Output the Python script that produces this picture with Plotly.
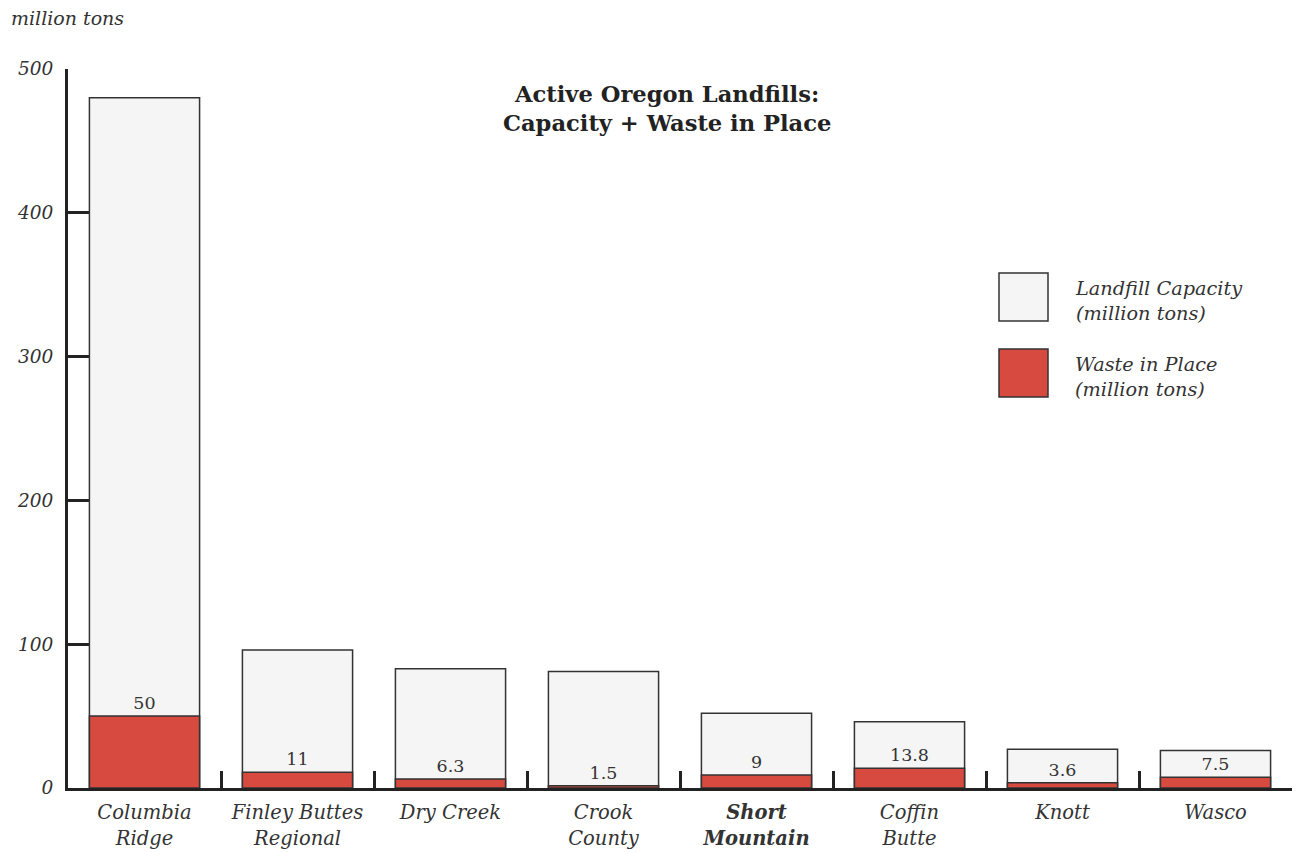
import plotly.graph_objects as go

categories = ["Columbia Ridge", "Finley Buttes Regional", "Dry Creek", "Crook County",
              "Short Mountain", "Coffin Butte", "Knott", "Wasco"]
tick_labels = ["Columbia<br>Ridge", "Finley Buttes<br>Regional", "Dry Creek", "Crook<br>County",
               "<b>Short<br>Mountain</b>", "Coffin<br>Butte", "Knott", "Wasco"]
capacity = [480, 96, 83, 81, 52, 46, 27, 26]
waste = [50, 11, 6.3, 1.5, 9, 13.8, 3.6, 7.5]
waste_labels = ["50", "11", "6.3", "1.5", "9", "13.8", "3.6", "7.5"]

FONT = "DejaVu Serif"
INK = "#333333"
AX = "#222222"
RED = "#d64a40"
LIGHT = "#f5f5f5"

fig = go.Figure()
fig.add_trace(go.Bar(x=categories, y=capacity, name="Landfill Capacity",
                     marker=dict(color=LIGHT, line=dict(color=INK, width=1.5)),
                     width=0.72, showlegend=False, hoverinfo="skip"))
fig.add_trace(go.Bar(x=categories, y=waste, name="Waste in Place",
                     marker=dict(color=RED, line=dict(color=INK, width=1.5)),
                     width=0.72, text=waste_labels, textposition="outside",
                     textfont=dict(family=FONT, size=17.5, color=INK),
                     cliponaxis=False, showlegend=False, hoverinfo="skip"))

fig.update_layout(
    width=1303, height=852,
    barmode="overlay",
    uniformtext=dict(minsize=17, mode=False),
    plot_bgcolor="white", paper_bgcolor="white",
    margin=dict(l=68, r=11, t=69, b=64),
    font=dict(family=FONT, color=INK),
    xaxis=dict(
        tickmode="array", tickvals=categories, ticktext=tick_labels,
        tickson="boundaries", ticks="inside", ticklen=17, tickwidth=3, tickcolor=AX,
        showline=True, linecolor=AX, linewidth=3,
        showgrid=False, zeroline=False, automargin=False,
        ticklabelstandoff=5,
        tickfont=dict(family=FONT, size=19.5, color=INK, style="italic"),
        range=[-0.5, 7.5],
    ),
    yaxis=dict(
        range=[0, 500], tickvals=[0, 100, 200, 300, 400, 500],
        ticks="inside", ticklen=31, tickwidth=3, tickcolor=AX,
        showline=True, linecolor=AX, linewidth=3,
        showgrid=False, zeroline=False, layer="below traces", automargin=False,
        ticklabelstandoff=8,
        tickfont=dict(family=FONT, size=18.5, color=INK, style="italic"),
    ),
)


def px_x(px):
    return (px - 68) / 1224


def px_y(py):
    return (788 - py) / 719


# axis unit label
fig.add_annotation(text="million tons", xref="paper", yref="paper",
                   x=px_x(9), y=px_y(18), xanchor="left", yanchor="middle",
                   showarrow=False, font=dict(family=FONT, size=19, color=INK, style="italic"))

# title
fig.add_annotation(text="<b>Active Oregon Landfills:<br>Capacity + Waste in Place</b>",
                   xref="paper", yref="paper", x=px_x(667), y=px_y(109),
                   xanchor="center", yanchor="middle", showarrow=False,
                   font=dict(family=FONT, size=22.6, color="#222222"))

# legend (manual)
legend_items = [("Landfill Capacity<br>(million tons)", LIGHT, 273, 321),
                ("Waste in Place<br>(million tons)", RED, 349, 397)]
for text, color, top, bot in legend_items:
    fig.add_shape(type="rect", xref="paper", yref="paper",
                  x0=px_x(999), x1=px_x(1048), y0=px_y(bot), y1=px_y(top),
                  fillcolor=color, line=dict(color=INK, width=1.5))
    fig.add_annotation(text=text, xref="paper", yref="paper",
                       x=px_x(1073), y=px_y((top + bot) / 2 + 4), xanchor="left", yanchor="middle",
                       align="left", showarrow=False,
                       font=dict(family=FONT, size=19.3, color=INK, style="italic"))

fig.write_html("out.html")
